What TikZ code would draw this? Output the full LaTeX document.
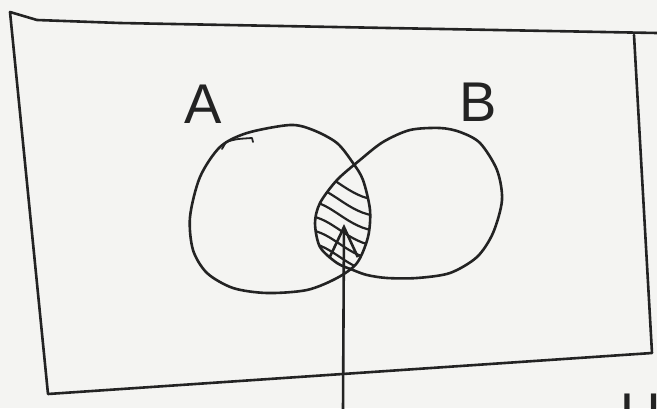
\documentclass[tikz,border=0pt]{standalone}
\usepackage{fontspec}
\setmainfont{Liberation Sans}
\usepackage{tikz}
\usetikzlibrary{arrows.meta, positioning}
\definecolor{ink}{RGB}{35, 35, 35}
\definecolor{paper}{RGB}{244, 244, 242}

\begin{document}
\begin{tikzpicture}[
			x=1pt, y=-1pt,
			stroke/.style={line width=2.6pt, draw=ink, line cap=round, line join=round},
			hatch/.style={line width=2.2pt, draw=ink, line cap=round},
			setlabel/.style={font=\fontsize{56}{60}\selectfont, text=ink, inner sep=0pt},
			pointer/.style={stroke, -{Straight Barb[length=30pt, width=28pt]}}
		]
		\useasboundingbox (0,0) rectangle (657,408);
		\clip (0,0) rectangle (657,408);
		\fill[paper] (0,0) rectangle (657,408);
		
		% Universe
		\draw[stroke] (657,33) -- (120,23) -- (37,20) -- (10,12) -- (48,394) -- (652,353) -- (634,35);
		
		% Sets
		\path[save path=\setA] plot[smooth cycle] coordinates {(290,125) (313,130) (337,143) (353,163) (363,180) (370,210) (368,237) (357,263) (337,278) (307,290) (267,293) (233,288) (207,273) (193,250) (190,217) (200,177) (220,147) (247,133)};
		\path[save path=\setB] plot[smooth cycle] coordinates {(440,128) (460,132) (480,143) (497,170) (502,200) (493,233) (477,257) (450,273) (417,278) (387,278) (367,275) (353,270) (337,263) (320,247) (315,223) (320,203) (337,180) (360,160) (383,142) (410,130)};
		
		% Intersection
		\begin{scope}
			\clip[use path=\setA];
			\clip[use path=\setB];
			\foreach \y in {170,186,201,216,230,243}
				\draw[hatch] (308,\y) .. controls (332,\y+1) and (348,\y+28) .. (378,\y+30);
		\end{scope}
		\draw[stroke, use path=\setA];
		\draw[stroke, use path=\setB];
		\draw[stroke, line width=1.8pt] (222,149) -- (226,142) .. controls (236,139) .. (252,138) -- (253,142);
		
		% Labels
		\node[setlabel] (labA) at (203,104) {A};
		\node[setlabel] (labB) at (478,102) {B};
		\node[setlabel, anchor=north] (labU) at (641,394) {U};
		
		% Pointer
		\coordinate (foot) at (343,412);
		\coordinate (tip) at (344,224);
		\draw[pointer] (foot) -- (tip);
		\end{tikzpicture}
\end{document}
